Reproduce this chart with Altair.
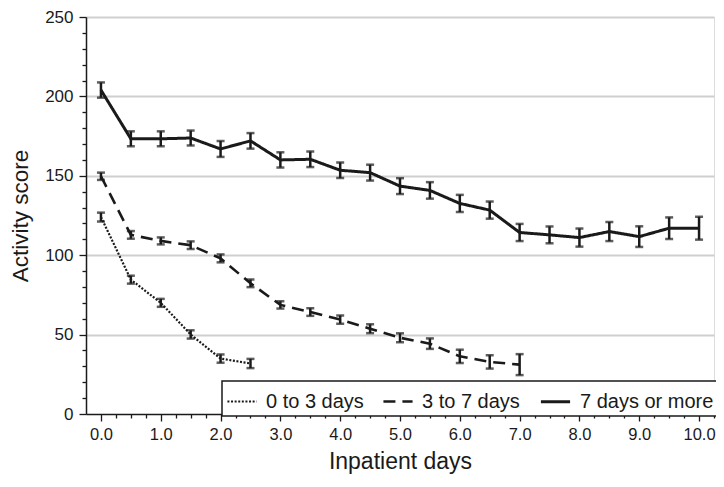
import altair as alt
import pandas as pd

# ---- data ----
groups = ["0 to 3 days", "3 to 7 days", "7 days or more"]

days_short = [0.0, 0.5, 1.0, 1.5, 2.0, 2.5]
score_short = [124, 84.6, 70, 50.1, 34.9, 31.8]
err_short = [2.8, 2.5, 2.5, 2.6, 2.6, 2.9]

days_mid = [0.0, 0.5, 1.0, 1.5, 2.0, 2.5, 3.0, 3.5, 4.0, 4.5, 5.0, 5.5, 6.0, 6.5, 7.0]
score_mid = [149.7, 112.8, 109, 106.3, 98, 82.3, 68.7, 64.2, 59.5, 53.7, 48, 44.3, 36.3, 32.8, 31.1]
err_mid = [2.3, 2.4, 2.2, 2.4, 2.5, 2.4, 2.3, 2.4, 2.6, 2.8, 2.8, 3.3, 4.2, 4.2, 6.6]

days_long = [0.0, 0.5, 1.0, 1.5, 2.0, 2.5, 3.0, 3.5, 4.0, 4.5, 5.0,
             5.5, 6.0, 6.5, 7.0, 7.5, 8.0, 8.5, 9.0, 9.5, 10.0]
score_long = [204, 173.3, 173.3, 173.8, 166.9, 172, 160, 160.4, 153.5, 152, 143.5,
              140.8, 132.6, 128.4, 114.3, 112.8, 111.1, 114.9, 111.7, 117, 117]
err_long = [4.8, 4.7, 4.7, 4.7, 5.0, 4.9, 4.8, 4.9, 4.9, 5.0, 5.0,
            5.2, 5.4, 5.4, 5.4, 5.3, 5.7, 6.0, 6.5, 6.8, 7.2]

x_ticks = [i * 0.25 for i in range(0, 42)]
y_ticks = list(range(0, 260, 10))

rows = []
for g, d, s, e in [(groups[0], days_short, score_short, err_short),
                   (groups[1], days_mid, score_mid, err_mid),
                   (groups[2], days_long, score_long, err_long)]:
    for di, si, ei in zip(d, s, e):
        rows.append({"group": g, "day": di, "score": si, "lo": si - ei, "hi": si + ei})
df = pd.DataFrame(rows)

FONT = "Liberation Sans"
INK = "#1a1a1a"

x_scale = alt.Scale(domain=[-0.25, 10.25], nice=False, zero=False)
y_scale = alt.Scale(domain=[0, 250], nice=False)

x_axis = alt.Axis(
    title="Inpatient days", values=x_ticks,
    labelExpr="datum.value % 1 === 0 ? format(datum.value, '.1f') : ''",
    labelOverlap=False, labelFlush=False, grid=False,
    tickSize={"condition": {"test": "datum.value % 1 === 0", "value": 7}, "value": 4},
    tickColor=INK, tickWidth=1.3, domainColor=INK, domainWidth=1.5,
    labelFont=FONT, labelFontSize=16.5, labelColor=INK, labelPadding=5,
    titleFont=FONT, titleFontSize=23, titleFontWeight="normal", titleColor=INK, titlePadding=8,
)
y_axis = alt.Axis(
    title="Activity score", values=y_ticks,
    labelExpr="datum.value % 50 === 0 ? format(datum.value, 'd') : ''",
    labelOverlap=False, labelFlush=False,
    grid=True,
    gridColor={"condition": {"test": "datum.value % 50 === 0 && datum.value > 0", "value": "#cfcfcf"},
               "value": "rgba(0,0,0,0)"},
    gridWidth=2,
    tickSize={"condition": {"test": "datum.value % 50 === 0", "value": 7}, "value": 4},
    tickColor=INK, tickWidth=1.3, domainColor=INK, domainWidth=1.5,
    labelFont=FONT, labelFontSize=17, labelColor=INK, labelPadding=6,
    titleFont=FONT, titleFontSize=22.5, titleFontWeight="normal", titleColor=INK, titlePadding=12,
)

legend = alt.Legend(
    orient="none", legendX=136, legendY=364, direction="horizontal", title=None,
    strokeColor=INK, padding=4, fillColor="white",
    labelFont=FONT, labelFontSize=20, labelColor=INK, labelOffset=8,
    symbolType="stroke", symbolSize=850, symbolStrokeColor=INK,
    columnPadding=14, labelLimit=300,
)

base = alt.Chart(df)
X = alt.X("day:Q", scale=x_scale, axis=x_axis)

lines = base.mark_line(color=INK).encode(
    x=X,
    y=alt.Y("score:Q", scale=y_scale, axis=y_axis),
    strokeDash=alt.StrokeDash(
        "group:N",
        scale=alt.Scale(domain=groups, range=[[2, 1.6], [12, 7], [1, 0]]),
        legend=legend,
    ),
    strokeWidth=alt.StrokeWidth(
        "group:N",
        scale=alt.Scale(domain=groups, range=[2.2, 3, 3]),
        legend=legend,
    ),
    detail="group:N",
)

bars = base.mark_rule(color=INK, strokeWidth=2.5).encode(
    x=X,
    y=alt.Y("lo:Q", scale=y_scale, axis=y_axis),
    y2="hi:Q",
)
cap_lo = base.mark_tick(color=INK, orient="horizontal", size=8, thickness=2.5).encode(
    x=X,
    y=alt.Y("lo:Q", scale=y_scale, axis=y_axis),
)
cap_hi = base.mark_tick(color=INK, orient="horizontal", size=8, thickness=2.5).encode(
    x=X,
    y=alt.Y("hi:Q", scale=y_scale, axis=y_axis),
)

chart = alt.layer(lines, bars, cap_lo, cap_hi).properties(
    width=628, height=397,
    autosize=alt.AutoSizeParams(type="none"),
    padding={"left": 78, "top": 9, "right": 2, "bottom": 65},
).configure_view(stroke=None).configure(background="white").configure_legend(strokeWidth=1.5)

chart.save("out.html", embed_options={"renderer": "svg", "actions": False})
